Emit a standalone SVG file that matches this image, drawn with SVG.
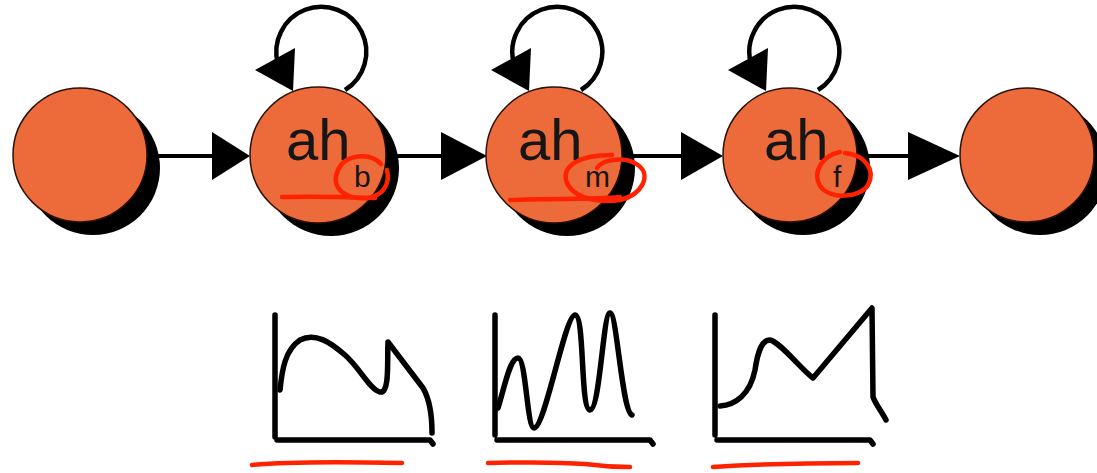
<svg xmlns="http://www.w3.org/2000/svg" width="1097" height="473" viewBox="0 0 1097 473">
  <style>
    .state { fill: #ED6A3B; stroke: #2a1208; stroke-width: 1.5; }
    .shadow { fill: #000; }
    .edge { stroke: #000; stroke-width: 4; fill: none; }
    .head { fill: #000; }
    .loop { stroke: #000; stroke-width: 4.5; fill: none; }
    .lbl { font-family: "Liberation Sans", Arial, sans-serif; fill: #161616; }
    .big { font-size: 58px; }
    .sub { font-size: 30px; }
    .mark { stroke: #FF2200; stroke-width: 4.5; fill: none; stroke-linecap: round; stroke-linejoin: round; }
    .plot { stroke: #000; stroke-width: 5.5; fill: none; stroke-linecap: round; stroke-linejoin: round; }
  </style>
  <defs>
    <!-- self-transition loop drawn above a state centred at x=0 -->
    <g id="selfloop">
      <path class="loop" d="M 25,90 A 45 45 0 1 0 -42,64"/>
      <polygon class="head" points="-65,70 -25,48 -27,91"/>
    </g>
  </defs>

  <rect width="1097" height="473" fill="#fff"/>

  <!-- transitions -->
  <g id="connectors">
    <line class="edge" x1="147" y1="156" x2="215" y2="156"/>
    <polygon class="head" points="212,132 250,156 212,180"/>
    <line class="edge" x1="386" y1="156" x2="445" y2="156"/>
    <polygon class="head" points="441,132 487,156 441,180"/>
    <line class="edge" x1="622" y1="156" x2="684" y2="156"/>
    <polygon class="head" points="681,132 723,156 681,180"/>
    <line class="edge" x1="857" y1="156" x2="912" y2="156"/>
    <polygon class="head" points="908,132 960,156 908,180"/>
    <use href="#selfloop" x="320" y="0"/>
    <use href="#selfloop" x="556" y="0"/>
    <use href="#selfloop" x="793" y="0"/>
  </g>

  <!-- start state -->
  <g id="start">
    <circle class="shadow" cx="93" cy="168" r="67"/>
    <circle class="state" cx="80" cy="155" r="67"/>
  </g>

  <g id="ah-b">
    <circle class="shadow" cx="331" cy="168" r="68"/>
    <circle class="state" cx="318" cy="155" r="68"/>
    <text class="lbl big" x="286" y="160">ah</text>
    <text class="lbl sub" x="354" y="187">b</text>
  </g>

  <g id="ah-m">
    <circle class="shadow" cx="567" cy="168" r="68"/>
    <circle class="state" cx="554" cy="155" r="68"/>
    <text class="lbl big" x="518" y="160">ah</text>
    <text class="lbl sub" x="585" y="187">m</text>
  </g>

  <g id="ah-f">
    <circle class="shadow" cx="803" cy="168" r="67"/>
    <circle class="state" cx="790" cy="155" r="67"/>
    <text class="lbl big" x="764" y="160">ah</text>
    <text class="lbl sub" x="833" y="187">f</text>
  </g>

  <!-- end state -->
  <g id="end">
    <circle class="shadow" cx="1040" cy="168" r="67"/>
    <circle class="state" cx="1027" cy="155" r="67"/>
  </g>

  <!-- waveform sketches -->
  <g id="plot-b">
    <path class="plot" d="M 275,315 L 275,437 M 277,440 L 430,440 L 433,444"/>
    <path class="plot" d="M 280,390 C 282,370 285,350 300,340 C 315,332 330,342 345,355 C 360,368 370,390 380,392 C 390,394 387,360 388,342 L 423,388 C 430,400 432,420 432,433"/>
  </g>
  <g id="plot-m">
    <path class="plot" d="M 495,315 L 495,435 M 497,440 L 650,440 L 653,444"/>
    <path class="plot" d="M 498,408 C 505,385 510,358 518,358 C 526,358 527,428 534,428 C 545,428 565,315 575,315 C 585,315 580,410 590,410 C 600,410 603,313 610,313 C 617,313 622,412 632,415"/>
  </g>
  <g id="plot-f">
    <path class="plot" d="M 715,315 L 715,435 M 717,440 L 870,440 L 873,444"/>
    <path class="plot" d="M 720,406 C 735,405 750,395 755,370 C 758,350 762,340 770,340 C 780,342 800,368 813,378 L 872,308 L 873,397 C 876,405 882,412 886,420"/>
  </g>

  <!-- hand-drawn red annotations -->
  <g id="annotations">
    <path class="mark" d="M 282,197 C 310,196 345,197 375,198"/>
    <path class="mark" d="M 381,164 C 370,152 345,154 338,170 C 330,188 345,200 368,198 C 385,195 390,182 387,170"/>
    <path class="mark" d="M 510,200 C 550,198 590,200 620,197"/>
    <path class="mark" d="M 597,168 C 602,160 625,155 638,165 C 652,175 642,195 620,200 C 595,204 570,196 566,180 C 563,165 580,155 612,155"/>
    <path class="mark" d="M 840,152 C 822,156 812,172 820,186 C 830,200 860,198 868,185 C 876,170 865,155 845,153"/>
    <path class="mark" d="M 252,465 C 290,461 350,462 402,463"/>
    <path class="mark" d="M 488,463 C 530,462 560,462 585,464 C 600,466 615,467 630,467"/>
    <path class="mark" d="M 713,467 C 760,464 810,463 858,463"/>
  </g>
</svg>
